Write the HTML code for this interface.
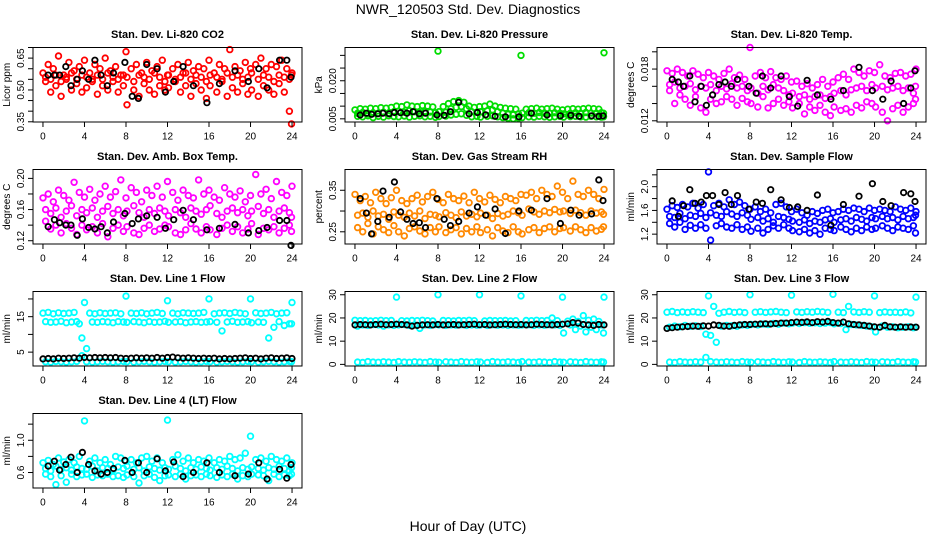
<!DOCTYPE html>
<html><head><meta charset="utf-8"><style>
html,body{margin:0;padding:0;background:#fff;}
svg{display:block;font-family:"Liberation Sans",Arial,sans-serif;}
</style></head><body>
<svg id="chart" width="936" height="540" viewBox="0 0 936 540">
<rect x="0" y="0" width="936" height="540" fill="#fff"/>
<text x="468" y="14" text-anchor="middle" font-size="14">NWR_120503  Std. Dev. Diagnostics</text>
<text x="468" y="531" text-anchor="middle" font-size="14">Hour of Day (UTC)</text>
</svg>
<script>
const hours49 = [0,0.5,1,1.5,2,2.5,3,3.5,4,4.5,5,5.5,6,6.5,7,7.5,8,8.5,9,9.5,10,10.5,11,11.5,12,12.5,13,13.5,14,14.5,15,15.5,16,16.5,17,17.5,18,18.5,19,19.5,20,20.5,21,21.5,22,22.5,23,23.5,24];
const hoursMid = [0.25,0.75,1.25,1.75,2.25,2.75,3.25,3.75,4.2,4.75,5.25,5.75,6.25,6.75,7.25,7.75,8.1,8.75,9.25,9.75,10.25,10.75,11.25,11.75,12.1,12.75,13.25,13.75,14.25,14.75,15.25,15.75,16.1,16.75,17.25,17.75,18.25,18.75,19.25,19.75,20.1,20.75,21.25,21.75,22.25,22.75,23.25,23.75,23.95];
const hoursBlack = [0.5,1.1,1.6,2.2,2.7,3.3,3.8,4.4,5.0,5.6,6.2,6.8,7.9,8.6,9.2,10.0,11.0,11.8,12.6,13.5,14.5,15.8,17.0,18.5,19.8,20.8,21.6,22.8,23.5,23.9];
const xTicks = [0,4,8,12,16,20,24];

const co2A = [0.58,0.62,0.60,0.66,0.57,0.63,0.59,0.61,0.64,0.58,0.62,0.60,0.65,0.59,0.61,0.57,0.68,0.60,0.62,0.58,0.63,0.59,0.61,0.64,0.57,0.60,0.62,0.58,0.63,0.59,0.61,0.60,0.64,0.58,0.62,0.60,0.69,0.61,0.59,0.63,0.60,0.62,0.65,0.60,0.62,0.61,0.64,0.60,0.58];
const co2B = [0.54,0.49,0.52,0.47,0.55,0.50,0.53,0.49,0.51,0.55,0.48,0.52,0.50,0.54,0.49,0.52,0.43,0.50,0.47,0.53,0.50,0.48,0.52,0.50,0.51,0.54,0.49,0.52,0.47,0.53,0.50,0.46,0.52,0.49,0.54,0.47,0.51,0.49,0.53,0.48,0.50,0.47,0.52,0.50,0.48,0.53,0.49,0.40,0.34];
const co2C = [0.56,0.55,0.57,0.54,0.56,0.58,0.55,0.57,0.56,0.54,0.57,0.55,0.58,0.56,0.55,0.57,0.56,0.54,0.57,0.56,0.55,0.58,0.56,0.54,0.57,0.55,0.56,0.58,0.55,0.57,0.56,0.54,0.57,0.56,0.55,0.58,0.56,0.57,0.55,0.56,0.58,0.55,0.57,0.56,0.54,0.57,0.56,0.55,0.57];
const co2K = [0.57,0.57,0.57,0.61,0.52,0.55,0.59,0.55,0.64,0.57,0.52,0.58,0.63,0.47,0.46,0.62,0.60,0.49,0.54,0.61,0.52,0.44,0.53,0.59,0.54,0.60,0.51,0.64,0.64,0.56];

const presA = [0.0085,0.0090,0.0088,0.0092,0.0090,0.0094,0.0092,0.0095,0.0100,0.0098,0.0105,0.0100,0.0098,0.0102,0.0100,0.0097,0.0317,0.0098,0.0110,0.0118,0.0122,0.0115,0.0100,0.0095,0.0098,0.0100,0.0108,0.0100,0.0095,0.0092,0.0090,0.0088,0.0300,0.0088,0.0090,0.0092,0.0088,0.0090,0.0092,0.0088,0.0085,0.0088,0.0090,0.0088,0.0090,0.0092,0.0090,0.0088,0.0310];
const presB = [0.0060,0.0058,0.0062,0.0055,0.0060,0.0057,0.0062,0.0059,0.0058,0.0061,0.0057,0.0060,0.0062,0.0058,0.0060,0.0056,0.0059,0.0061,0.0065,0.0068,0.0070,0.0064,0.0058,0.0060,0.0057,0.0060,0.0062,0.0058,0.0055,0.0052,0.0050,0.0052,0.0055,0.0058,0.0057,0.0060,0.0058,0.0056,0.0058,0.0060,0.0057,0.0059,0.0060,0.0058,0.0057,0.0060,0.0058,0.0057,0.0058];
const presC = [0.0072,0.0075,0.0070,0.0074,0.0072,0.0076,0.0073,0.0078,0.0080,0.0076,0.0082,0.0078,0.0075,0.0079,0.0077,0.0074,0.0078,0.0076,0.0090,0.0095,0.0098,0.0090,0.0078,0.0076,0.0078,0.0082,0.0085,0.0078,0.0072,0.0068,0.0066,0.0070,0.0072,0.0074,0.0072,0.0075,0.0073,0.0072,0.0074,0.0072,0.0070,0.0072,0.0074,0.0072,0.0075,0.0073,0.0072,0.0074,0.0072];
const presK = [0.0065,0.0072,0.0068,0.0070,0.0072,0.0070,0.0075,0.0074,0.0072,0.0078,0.0070,0.0072,0.0065,0.0064,0.0078,0.0115,0.0070,0.0075,0.0066,0.0060,0.0058,0.0058,0.0072,0.0065,0.0062,0.0064,0.0060,0.0062,0.0060,0.0062];

const tempA = [0.0178,0.0175,0.0180,0.0176,0.0172,0.0178,0.0174,0.0170,0.0176,0.0172,0.0168,0.0175,0.0180,0.0170,0.0173,0.0168,0.0205,0.0172,0.0176,0.0170,0.0177,0.0170,0.0168,0.0172,0.0165,0.0166,0.0160,0.0163,0.0158,0.0162,0.0168,0.0160,0.0165,0.0170,0.0174,0.0168,0.0180,0.0176,0.0172,0.0178,0.0176,0.0185,0.0172,0.0170,0.0175,0.0176,0.0172,0.0174,0.0180];
const tempB = [0.0155,0.0140,0.0150,0.0145,0.0138,0.0148,0.0135,0.0130,0.0145,0.0140,0.0142,0.0148,0.0145,0.0138,0.0146,0.0142,0.0140,0.0136,0.0148,0.0135,0.0140,0.0145,0.0138,0.0142,0.0135,0.0140,0.0128,0.0136,0.0132,0.0138,0.0130,0.0126,0.0136,0.0132,0.0134,0.0130,0.0138,0.0135,0.0142,0.0140,0.0136,0.0130,0.0120,0.0134,0.0138,0.0130,0.0136,0.0140,0.0145];
const tempC = [0.0162,0.0165,0.0158,0.0160,0.0163,0.0156,0.0160,0.0158,0.0162,0.0155,0.0160,0.0157,0.0163,0.0158,0.0160,0.0155,0.0158,0.0152,0.0160,0.0156,0.0162,0.0158,0.0155,0.0150,0.0152,0.0148,0.0150,0.0145,0.0148,0.0150,0.0146,0.0148,0.0152,0.0155,0.0150,0.0156,0.0158,0.0160,0.0155,0.0162,0.0158,0.0160,0.0156,0.0158,0.0160,0.0155,0.0158,0.0152,0.0160];
const tempK = [0.0168,0.0165,0.0160,0.0172,0.0142,0.0160,0.0138,0.0150,0.0162,0.0165,0.0160,0.0168,0.0160,0.0152,0.0172,0.0158,0.0172,0.0148,0.0137,0.0167,0.0150,0.0145,0.0155,0.0182,0.0155,0.0145,0.0166,0.0140,0.0158,0.0178];

const ambA = [0.175,0.180,0.170,0.185,0.178,0.172,0.195,0.182,0.176,0.186,0.172,0.180,0.190,0.176,0.183,0.198,0.175,0.188,0.182,0.170,0.185,0.178,0.190,0.176,0.196,0.182,0.172,0.185,0.178,0.175,0.198,0.180,0.185,0.176,0.172,0.188,0.180,0.176,0.184,0.170,0.178,0.205,0.180,0.186,0.174,0.196,0.182,0.178,0.190];
const ambB = [0.145,0.135,0.140,0.130,0.142,0.136,0.128,0.140,0.134,0.138,0.130,0.142,0.125,0.136,0.140,0.132,0.138,0.130,0.128,0.136,0.140,0.132,0.135,0.140,0.138,0.130,0.128,0.134,0.142,0.135,0.130,0.138,0.134,0.128,0.136,0.140,0.132,0.138,0.130,0.135,0.142,0.128,0.136,0.134,0.138,0.130,0.136,0.140,0.132];
const ambC = [0.160,0.155,0.162,0.150,0.158,0.165,0.152,0.160,0.156,0.162,0.150,0.158,0.164,0.155,0.160,0.152,0.158,0.165,0.156,0.150,0.160,0.155,0.162,0.158,0.152,0.160,0.156,0.150,0.162,0.158,0.154,0.160,0.165,0.155,0.150,0.158,0.162,0.156,0.160,0.152,0.158,0.164,0.155,0.160,0.150,0.158,0.162,0.156,0.150];
const ambK = [0.138,0.147,0.143,0.140,0.140,0.127,0.148,0.137,0.135,0.138,0.130,0.144,0.155,0.142,0.148,0.152,0.150,0.136,0.147,0.159,0.147,0.134,0.136,0.141,0.130,0.133,0.137,0.146,0.146,0.114];

const rhA = [0.340,0.325,0.335,0.320,0.345,0.330,0.318,0.332,0.350,0.325,0.318,0.330,0.338,0.322,0.335,0.345,0.328,0.320,0.340,0.330,0.325,0.336,0.320,0.345,0.330,0.322,0.338,0.328,0.320,0.335,0.330,0.325,0.340,0.338,0.345,0.330,0.350,0.340,0.335,0.360,0.345,0.330,0.372,0.340,0.335,0.350,0.340,0.330,0.352];
const rhB = [0.260,0.250,0.270,0.245,0.262,0.255,0.248,0.265,0.250,0.240,0.258,0.262,0.252,0.245,0.260,0.250,0.262,0.248,0.255,0.260,0.245,0.258,0.250,0.262,0.248,0.255,0.240,0.260,0.252,0.248,0.262,0.250,0.245,0.255,0.260,0.248,0.258,0.262,0.250,0.258,0.260,0.252,0.262,0.255,0.248,0.260,0.252,0.256,0.262];
const rhC = [0.290,0.295,0.285,0.300,0.288,0.292,0.280,0.298,0.290,0.285,0.295,0.288,0.300,0.282,0.292,0.290,0.286,0.296,0.290,0.284,0.298,0.288,0.292,0.286,0.295,0.290,0.282,0.294,0.288,0.292,0.300,0.296,0.290,0.305,0.298,0.292,0.300,0.296,0.304,0.298,0.300,0.294,0.302,0.296,0.290,0.300,0.295,0.298,0.292];
const rhK = [0.330,0.295,0.245,0.275,0.348,0.285,0.370,0.298,0.280,0.270,0.272,0.260,0.330,0.280,0.265,0.275,0.295,0.310,0.290,0.305,0.246,0.300,0.302,0.330,0.270,0.302,0.290,0.293,0.375,0.325];

const flowA = [1.62,1.68,1.65,1.70,1.66,1.72,1.64,1.70,2.25,1.68,1.72,1.66,1.78,1.70,1.74,1.68,1.62,1.66,1.58,1.62,1.56,1.70,1.72,1.66,1.58,1.62,1.56,1.52,1.58,1.55,1.60,1.62,1.56,1.58,1.62,1.60,1.64,1.62,1.58,1.64,1.60,1.62,1.60,1.58,1.66,1.62,1.60,1.64,1.58];
const flowB = [1.38,1.32,1.40,1.28,1.35,1.30,1.36,1.30,1.10,1.34,1.38,1.32,1.30,1.36,1.28,1.32,1.25,1.30,1.22,1.28,1.34,1.30,1.36,1.30,1.26,1.24,1.28,1.22,1.26,1.20,1.30,1.28,1.26,1.32,1.28,1.24,1.30,1.26,1.32,1.28,1.30,1.34,1.30,1.26,1.32,1.30,1.28,1.34,1.22];
const flowC = [1.50,1.48,1.55,1.46,1.52,1.50,1.55,1.48,1.56,1.52,1.50,1.58,1.54,1.50,1.56,1.52,1.45,1.48,1.42,1.46,1.40,1.50,1.48,1.45,1.42,1.40,1.44,1.38,1.42,1.40,1.44,1.46,1.40,1.44,1.46,1.42,1.48,1.45,1.42,1.48,1.46,1.50,1.46,1.48,1.44,1.50,1.46,1.48,1.52];
const flowK = [1.76,1.50,1.68,1.95,1.72,1.74,1.85,1.85,1.70,1.90,1.70,1.85,1.62,1.74,1.72,1.95,1.78,1.65,1.66,1.60,1.86,1.35,1.70,1.84,2.05,1.75,1.68,1.90,1.88,1.75];

const line1A = [16.0,16.2,15.8,16.1,15.9,16.0,16.2,13.0,19.0,16.0,15.8,16.1,15.9,16.0,16.1,15.8,20.8,16.0,15.9,16.1,15.8,16.0,16.2,15.9,19.5,16.0,15.8,16.1,16.0,15.9,16.0,16.2,20.0,15.8,16.0,16.1,15.9,16.2,16.0,15.8,20.0,16.1,15.9,16.0,16.2,15.8,16.0,16.1,19.0];
const line1B = [13.6,13.4,13.5,13.7,13.3,13.5,13.6,9.0,6.0,13.5,13.4,13.6,13.5,13.3,13.6,13.5,13.4,13.6,13.5,13.3,13.6,13.4,13.5,13.7,13.4,13.5,13.6,13.3,13.5,13.6,13.4,13.5,13.6,13.4,11.0,13.5,13.7,13.4,13.5,13.6,13.3,13.5,13.4,9.0,12.0,13.6,12.5,13.0,13.0];
const line1C = [2.3,2.2,2.4,2.3,2.2,2.3,2.4,4.0,2.3,2.2,2.3,2.4,2.3,2.2,2.3,2.4,2.3,2.2,2.3,2.4,2.3,2.2,2.3,2.4,2.3,2.2,2.3,2.4,2.3,2.2,2.3,2.4,2.3,2.2,2.3,2.4,2.3,2.2,2.3,2.4,2.3,2.2,2.3,2.4,2.3,2.2,2.3,2.4,2.3];
const line1K = [3.1,3.2,3.1,3.3,3.2,3.3,3.4,3.3,3.5,3.4,3.5,3.4,3.5,3.4,3.5,3.3,3.2,3.3,3.4,3.3,3.4,3.3,3.5,3.3,3.5,3.6,3.4,3.3,3.4,3.3,3.2,3.3,3.2,3.3,3.1,3.2,3.1,3.2,3.3,3.4,3.2,3.3,3.1,3.3,3.4,3.2,3.3,3.4,3.2];

const line2A = [19.0,18.8,18.9,18.7,18.8,19.0,18.8,18.9,29.0,18.8,18.7,18.9,18.8,19.0,18.8,18.7,30.0,18.9,18.8,18.7,18.9,18.8,19.0,18.8,30.0,18.7,18.9,18.8,18.8,18.9,18.7,18.8,29.5,18.9,18.8,19.0,18.8,18.9,20.0,18.8,29.0,18.6,19.5,18.5,21.0,19.0,19.5,18.5,29.0];
const line2B = [1.0,0.8,1.2,1.0,0.9,1.1,1.0,0.8,1.2,1.0,0.9,1.1,1.0,0.8,1.2,1.0,0.9,1.1,1.0,0.8,1.2,1.0,0.9,1.1,1.0,0.8,1.2,1.0,0.9,1.1,1.0,0.8,1.2,1.0,0.9,1.1,1.0,0.8,1.2,1.0,0.9,1.1,1.0,0.8,1.2,1.0,0.9,1.1,1.0];
const line2C = [16.5,17.0,16.8,17.2,17.0,16.5,17.0,16.8,17.0,17.2,16.8,17.0,15.5,17.0,16.8,17.2,17.0,16.8,17.0,16.9,17.1,16.8,17.0,16.9,17.0,16.8,17.1,16.9,17.0,16.8,17.0,16.9,17.0,17.1,16.8,17.0,16.9,17.1,17.0,16.8,13.5,17.0,15.0,16.5,14.0,16.0,15.0,17.0,13.5];
const line2K = [17.0,17.2,17.1,17.0,17.2,17.3,17.1,17.2,17.3,17.2,17.0,16.5,16.8,17.0,17.1,17.0,17.2,17.0,17.1,17.2,17.0,17.1,17.2,17.3,17.1,17.2,17.0,17.1,17.2,17.3,17.2,17.1,17.2,17.0,17.1,17.3,17.2,17.1,17.0,17.2,17.3,17.5,18.0,17.8,17.2,17.0,16.8,17.2,17.0];

const line3A = [22.5,22.8,22.3,22.6,22.4,22.7,22.5,22.3,29.5,25.0,22.0,22.5,22.8,22.4,22.6,22.3,30.0,22.5,22.7,22.4,22.6,22.8,22.5,22.3,29.8,22.6,22.4,22.7,22.5,22.8,22.6,22.4,30.2,22.5,22.3,25.0,22.6,22.4,22.7,22.5,29.5,22.3,22.6,22.4,22.5,22.3,22.6,22.2,29.0];
const line3B = [1.0,0.8,1.2,1.0,0.9,1.1,1.0,3.0,1.2,1.0,0.9,1.1,1.0,0.8,1.2,1.0,0.9,1.1,1.0,0.8,1.2,1.0,0.9,1.1,1.0,0.8,1.2,1.0,0.9,1.1,1.0,0.8,1.2,1.0,0.9,1.1,1.0,0.8,1.2,1.0,0.9,1.1,1.0,0.8,1.2,1.0,0.9,1.1,1.0];
const line3C = [16.0,16.5,16.2,16.8,16.4,16.6,16.3,13.0,12.5,9.5,16.5,16.8,16.6,16.4,17.0,16.8,17.2,17.0,17.4,17.2,17.6,17.3,17.8,17.5,17.8,17.6,18.0,17.7,17.9,17.6,17.8,18.0,17.5,17.6,15.0,17.2,17.0,16.8,16.5,16.2,14.0,16.5,16.0,16.2,15.8,16.0,16.2,15.8,16.0];
const line3K = [15.5,15.8,16.0,16.2,16.3,16.5,16.4,16.6,16.5,17.0,16.8,16.5,16.4,16.8,17.0,17.2,17.2,17.3,17.4,17.5,17.4,17.6,17.8,17.8,18.0,18.2,18.1,18.3,18.0,18.4,18.2,18.5,18.0,17.8,18.2,17.5,17.2,17.0,16.8,16.5,16.2,16.0,16.8,16.2,16.0,16.2,16.0,16.1,16.0];

const line4A = [0.72,0.75,0.70,0.78,0.73,0.76,0.72,0.80,1.24,0.74,0.78,0.72,0.76,0.70,0.80,0.78,0.74,0.76,0.72,0.78,0.80,0.74,0.78,0.72,1.25,0.76,0.82,0.74,0.78,0.72,0.76,0.74,0.78,0.72,0.76,0.74,0.80,0.76,0.78,0.84,1.05,0.76,0.78,0.74,0.80,0.76,0.74,0.78,0.72];
const line4B = [0.58,0.55,0.45,0.56,0.48,0.58,0.55,0.57,0.58,0.54,0.57,0.56,0.58,0.55,0.56,0.54,0.57,0.55,0.47,0.56,0.58,0.54,0.50,0.56,0.57,0.55,0.58,0.52,0.56,0.57,0.55,0.58,0.56,0.54,0.57,0.55,0.58,0.52,0.56,0.55,0.58,0.57,0.56,0.50,0.58,0.55,0.57,0.56,0.58];
const line4C = [0.65,0.62,0.68,0.64,0.66,0.63,0.67,0.65,0.64,0.68,0.62,0.66,0.65,0.63,0.67,0.65,0.68,0.64,0.66,0.62,0.67,0.65,0.63,0.66,0.64,0.68,0.65,0.62,0.66,0.64,0.67,0.65,0.63,0.66,0.64,0.68,0.65,0.62,0.66,0.64,0.67,0.65,0.63,0.66,0.64,0.68,0.65,0.62,0.66];
const line4K = [0.68,0.74,0.63,0.70,0.79,0.60,0.85,0.70,0.62,0.58,0.60,0.65,0.75,0.60,0.72,0.60,0.77,0.62,0.73,0.55,0.60,0.72,0.60,0.56,0.58,0.72,0.52,0.64,0.53,0.70];

const co2Ticks = [0.35,0.40,0.45,0.50,0.55,0.60,0.65,0.70];
const co2Labels = ["0.35","","","0.50","","","0.65",""];
const presTicks = [0.005,0.010,0.015,0.020,0.025,0.030];
const presLabels = ["0.005","","","0.020","",""];
const tempTicks = [0.012,0.014,0.016,0.018,0.020];
const tempLabels = ["0.012","","","0.018",""];
const ambTicks = [0.12,0.14,0.16,0.18,0.20];
const ambLabels = ["0.12","","0.16","","0.20"];
const rhTicks = [0.25,0.30,0.35];
const rhLabels = ["0.25","","0.35"];
const flowTicks = [1.2,1.4,1.6,1.8,2.0,2.2];
const flowLabels = ["1.2","","1.6","","2.0",""];
const line1Ticks = [5,10,15,20];
const line1Labels = ["5","","15",""];
const line23Ticks = [0,10,20,30];
const line23Labels = ["0","10","20","30"];
const line4Ticks = [0.6,0.8,1.0,1.2];
const line4Labels = ["0.6","","1.0",""];

const colLeft = [33,345,657], boxW = 269;
const rowTop = [47.5,169.5,291.5,413.5], boxH = 74.5;
const xLo = -0.96, xHi = 24.96;

const panels = [
 {key:'co2',title:'Stan. Dev. Li-820 CO2',ylab:'Licor ppm',c:0,r:0,lo:0.349,hi:0.70,ticks:co2Ticks,labels:co2Labels,color:'#ff0000',series:[co2A,co2B,co2C],kx:hoursBlack,k:co2K},
 {key:'pressure',title:'Stan. Dev. Li-820 Pressure',ylab:'kPa',c:1,r:0,lo:0.00375,hi:0.0331,ticks:presTicks,labels:presLabels,color:'#00dd00',series:[presA,presB,presC],kx:hoursBlack,k:presK},
 {key:'li820-temp',title:'Stan. Dev. Li-820 Temp.',ylab:'degrees C',c:2,r:0,lo:0.01186,hi:0.0205,ticks:tempTicks,labels:tempLabels,color:'#ff00ff',series:[tempA,tempB,tempC],kx:hoursBlack,k:tempK},
 {key:'amb-box-temp',title:'Stan. Dev. Amb. Box Temp.',ylab:'degrees C',c:0,r:1,lo:0.1158,hi:0.2114,ticks:ambTicks,labels:ambLabels,color:'#ff00ff',series:[ambA,ambB,ambC],kx:hoursBlack,k:ambK},
 {key:'gas-stream-rh',title:'Stan. Dev. Gas Stream RH',ylab:'percent',c:1,r:1,lo:0.2206,hi:0.40,ticks:rhTicks,labels:rhLabels,color:'#ff8800',series:[rhA,rhB,rhC],kx:hoursBlack,k:rhK},
 {key:'sample-flow',title:'Stan. Dev. Sample Flow',ylab:'ml/min',c:2,r:1,lo:1.034,hi:2.29,ticks:flowTicks,labels:flowLabels,color:'#0000ff',series:[flowA,flowB,flowC],kx:hoursBlack,k:flowK},
 {key:'line1-flow',title:'Stan. Dev. Line 1 Flow',ylab:'ml/min',c:0,r:2,lo:1.09,hi:22.1,ticks:line1Ticks,labels:line1Labels,color:'#00ffff',series:[line1A,line1B,line1C],kx:hours49,k:line1K},
 {key:'line2-flow',title:'Stan. Dev. Line 2 Flow',ylab:'ml/min',c:1,r:2,lo:-0.7,hi:31.4,ticks:line23Ticks,labels:line23Labels,color:'#00ffff',series:[line2A,line2B,line2C],kx:hours49,k:line2K},
 {key:'line3-flow',title:'Stan. Dev. Line 3 Flow',ylab:'ml/min',c:2,r:2,lo:-0.7,hi:31.4,ticks:line23Ticks,labels:line23Labels,color:'#00ffff',series:[line3A,line3B,line3C],kx:hours49,k:line3K},
 {key:'line4-flow',title:'Stan. Dev. Line 4 (LT) Flow',ylab:'ml/min',c:0,r:3,lo:0.408,hi:1.332,ticks:line4Ticks,labels:line4Labels,color:'#00ffff',series:[line4A,line4B,line4C],kx:hoursBlack,k:line4K}
];
const seriesHours = [hours49, hoursMid, hoursMid];

const NS = 'http://www.w3.org/2000/svg';
const svg = document.getElementById('chart');
function mk(tag, attrs, parent, text){
  const e = document.createElementNS(NS, tag);
  for (const a in attrs) e.setAttribute(a, attrs[a]);
  if (text !== undefined) e.textContent = text;
  parent.appendChild(e);
  return e;
}

panels.forEach(p => {
  const L = colLeft[p.c], T = rowTop[p.r], R = L + boxW, B = T + boxH;
  const xs = h => L + (h - xLo) / (xHi - xLo) * boxW;
  const ys = v => B - (v - p.lo) / (p.hi - p.lo) * boxH;
  const g = mk('g', {}, svg);
  
  

  const t = mk('text', {x:(L+R)/2, y:T-9.5, 'text-anchor':'middle', 'font-size':11, 'font-weight':'bold'}, g, p.title);
  
  

  const yl = mk('text', {x:0, y:0, transform:`translate(${L-23},${(T+B)/2}) rotate(-90)`, 'text-anchor':'middle', 'font-size':10}, g, p.ylab);
  
  

  const marks = mk('g', {fill:'none', 'stroke-width':1.8}, g);
  
  
  p.series.forEach((arr, si) => {
    const hx = seriesHours[si];
    const n = Math.min(arr.length, hx.length);
    for (let i = 0; i < n; i++) {
      const c = mk('circle', {cx:xs(hx[i]).toFixed(1), cy:ys(arr[i]).toFixed(1), r:2.8, stroke:p.color}, marks);
      
      
    }
  });
  const nk = Math.min(p.k.length, p.kx.length);
  for (let i = 0; i < nk; i++) {
    const c = mk('circle', {cx:xs(p.kx[i]).toFixed(1), cy:ys(p.k[i]).toFixed(1), r:2.7, stroke:'#000'}, marks);
    
    
  }

  const box = mk('rect', {x:L, y:T, width:boxW, height:boxH, fill:'none', stroke:'#000', 'stroke-width':1}, g);
  
  

  const xa = mk('g', {}, g);
  
  
  mk('line', {x1:xs(xTicks[0]), x2:xs(xTicks[xTicks.length-1]), y1:B, y2:B, stroke:'#000'}, xa);
  xTicks.forEach(h => {
    mk('line', {x1:xs(h), x2:xs(h), y1:B, y2:B+5, stroke:'#000'}, xa);
    const tl = mk('text', {x:xs(h), y:B+17.5, 'text-anchor':'middle', 'font-size':10}, xa, String(h));
    
    
  });

  const ya = mk('g', {}, g);
  
  
  const inT = p.ticks.filter(v => v >= p.lo && v <= p.hi);
  if (inT.length) mk('line', {x1:L, x2:L, y1:ys(inT[0]), y2:ys(inT[inT.length-1]), stroke:'#000'}, ya);
  p.ticks.forEach((v, i) => {
    if (v < p.lo || v > p.hi) return;
    mk('line', {x1:L-5, x2:L, y1:ys(v), y2:ys(v), stroke:'#000'}, ya);
    if (p.labels[i]) {
      const tl = mk('text', {x:0, y:0, transform:`translate(${L-9},${ys(v)}) rotate(-90)`, 'text-anchor':'middle', 'font-size':10}, ya, p.labels[i]);
      
      
    }
  });
});
</script>
</body></html>
